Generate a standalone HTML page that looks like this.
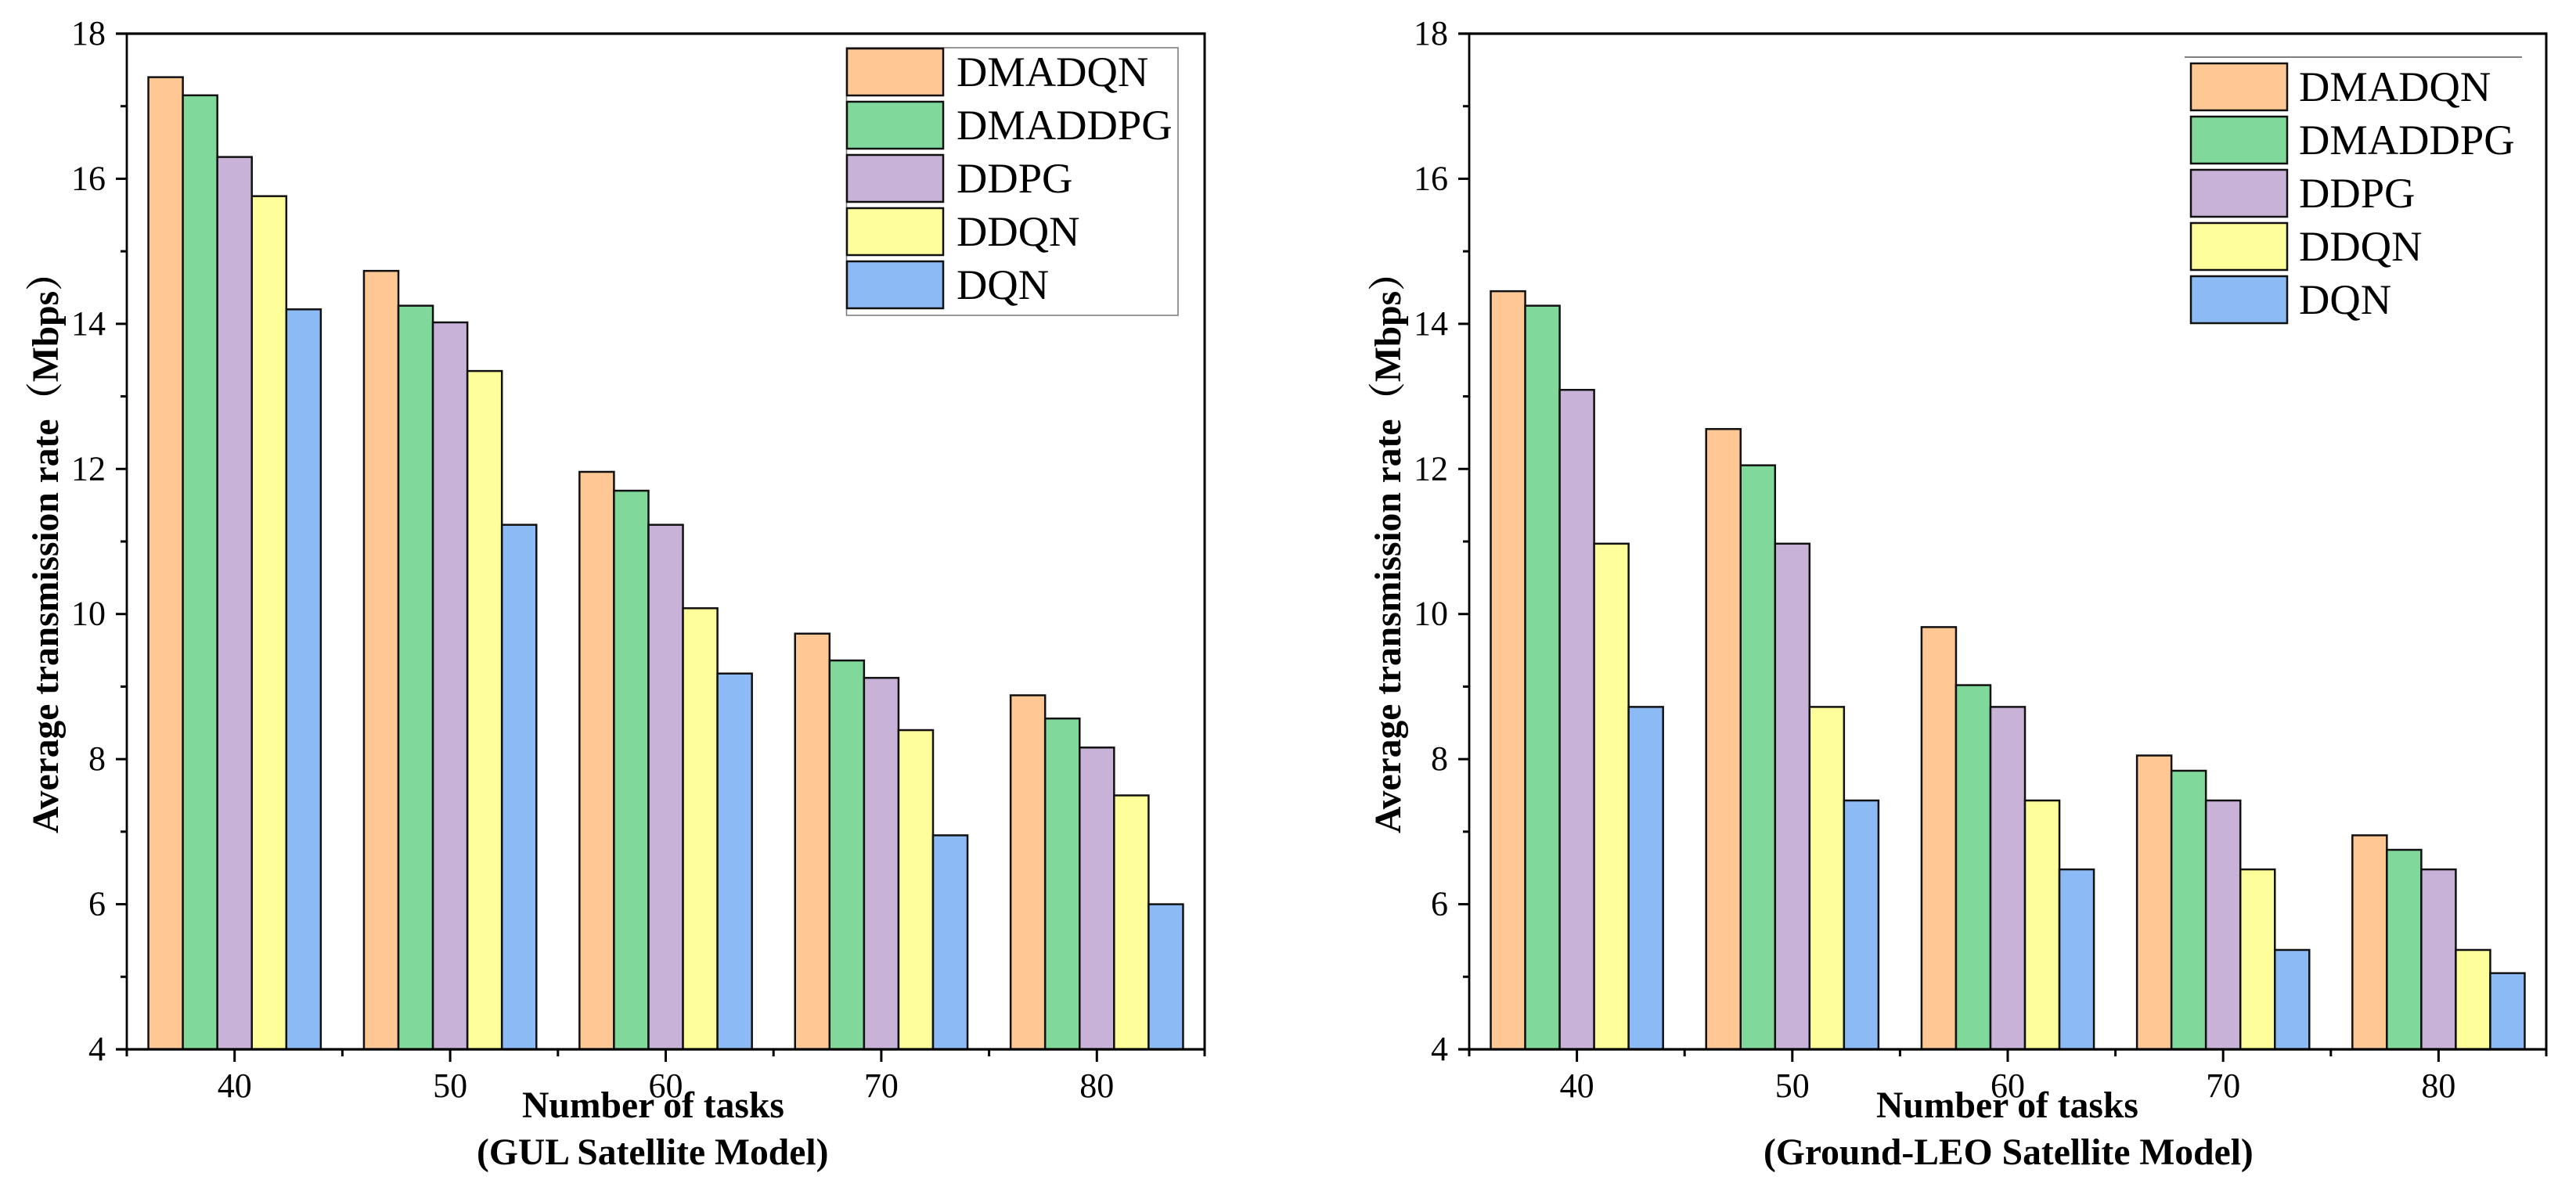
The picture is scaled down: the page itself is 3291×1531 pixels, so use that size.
<!DOCTYPE html>
<html lang="en">
<head>
<meta charset="utf-8">
<title>Average transmission rate charts</title>
<style>
html,body{margin:0;padding:0;background:#fff;width:3291px;height:1531px;overflow:hidden}
svg{display:block}
text{font-family:"Liberation Serif","Noto Serif CJK SC",serif;fill:#000}
</style>
</head>
<body>
<svg id="figure" xmlns="http://www.w3.org/2000/svg" width="3291" height="1531" viewBox="0 0 3291 1531"></svg>
<script>
const categories = ["40", "50", "60", "70", "80"];
const seriesNames = ["DMADQN", "DMADDPG", "DDPG", "DDQN", "DQN"];
const seriesColors = ["#FEC794", "#80D99B", "#C8B2D8", "#FEFE9B", "#8CBAF5"];
const yTickValues = [4, 6, 8, 10, 12, 14, 16, 18];
const yMinorTickValues = [5, 7, 9, 11, 13, 15, 17];

const gulDmadqn = [17.4, 14.73, 11.96, 9.73, 8.88];
const gulDmaddpg = [17.15, 14.25, 11.7, 9.36, 8.56];
const gulDdpg = [16.3, 14.02, 11.23, 9.12, 8.16];
const gulDdqn = [15.76, 13.35, 10.08, 8.4, 7.5];
const gulDqn = [14.2, 11.23, 9.18, 6.95, 6.0];

const leoDmadqn = [14.45, 12.55, 9.82, 8.05, 6.95];
const leoDmaddpg = [14.25, 12.05, 9.02, 7.84, 6.75];
const leoDdpg = [13.09, 10.97, 8.72, 7.43, 6.48];
const leoDdqn = [10.97, 8.72, 7.43, 6.48, 5.37];
const leoDqn = [8.72, 7.43, 6.48, 5.37, 5.05];

const NS = "http://www.w3.org/2000/svg";
const figure = document.getElementById("figure");
const plotTop = 43, plotBottom = 1341, yMin = 4, yMax = 18;

function make(parent, tag, props, content) {
  const el = document.createElementNS(NS, tag);
  for (const key in props) el.setAttribute(key, props[key]);
  if (content !== undefined) el.textContent = content;
  parent.appendChild(el);
  return el;
}
function yScale(v) {
  return plotBottom - (v - yMin) / (yMax - yMin) * (plotBottom - plotTop);
}
function line(parent, x1, y1, x2, y2, w, name) {
  const el = make(parent, "line", {x1: x1, y1: y1, x2: x2, y2: y2, stroke: "#000", "stroke-width": w});
  
  
  return el;
}

function drawPanel(panelName, left, right, series, titleX, titleLine2, title2X, yTitleX) {
  const g = make(figure, "g", {});
  
  
  const step = (right - left) / categories.length;
  const xCenter = function (i) { return left + step * (i + 0.5); };
  const barWidth = step * 0.8 / seriesNames.length;

  series.forEach(function (vals, s) {
    vals.forEach(function (v, c) {
      const x = xCenter(c) - step * 0.4 + s * barWidth;
      const y = yScale(v);
      const bar = make(g, "rect", {x: x, y: y, width: barWidth, height: plotBottom - y, fill: seriesColors[s], stroke: "#111", "stroke-width": 2.5});
      
      
    });
  });

  line(g, left - 14, plotTop, right + 1.5, plotTop, 3.2, "top-axis-line");
  line(g, left, plotTop, left, plotBottom, 2.8, "y-axis-line");
  line(g, right, plotTop, right, plotBottom, 3, "right-axis-line");
  line(g, left - 14, plotBottom, right + 1.5, plotBottom, 3.2, "x-axis-line");

  yTickValues.forEach(function (v) {
    line(g, left - 14, yScale(v), left, yScale(v), 3, "y-tick-" + v);
    const label = make(g, "text", {x: left - 27, y: yScale(v) + 14, "text-anchor": "end", "font-size": 44}, String(v));
    
    
  });
  yMinorTickValues.forEach(function (v) {
    line(g, left - 8, yScale(v), left, yScale(v), 3, "y-minor-tick-" + v);
  });

  categories.forEach(function (cat, i) {
    line(g, xCenter(i), plotBottom, xCenter(i), plotBottom + 16, 3, "x-tick-" + cat);
    const label = make(g, "text", {x: xCenter(i), y: 1402, "text-anchor": "middle", "font-size": 44}, cat);
    
    
  });
  for (let i = 0; i <= categories.length; i++) {
    line(g, left + step * i, plotBottom, left + step * i, plotBottom + 9, 3, "x-minor-tick-" + i);
  }

  const xTitle = make(g, "text", {x: titleX, y: 1428, "font-size": 47.6, "font-weight": "bold"}, "Number of tasks");
  
  
  const xSub = make(g, "text", {x: title2X, y: 1488, "font-size": 47.6, "font-weight": "bold"}, titleLine2);
  
  
  const yTitle = make(g, "text", {x: yTitleX, y: 1065, transform: "rotate(-90 " + yTitleX + " 1065)", "font-size": 47.5, "font-weight": "bold"}, "Average transmission rate（Mbps）");
  
  
}

function drawLegend(name, swatchX, textX, firstTop, boxed) {
  const g = make(figure, "g", {});
  
  
  if (boxed) {
    const frame = make(g, "rect", {x: 1081.5, y: 61, width: 423.5, height: 342, fill: "#fff", stroke: "#777", "stroke-width": 1.5});
    
    
  } else {
    const rule = make(g, "line", {x1: 2791, y1: 73, x2: 3222, y2: 73, stroke: "#555", "stroke-width": 1.5});
    
    
  }
  seriesNames.forEach(function (label, i) {
    const top = firstTop + i * 68;
    const swatch = make(g, "rect", {x: swatchX, y: top, width: 123, height: 60, fill: seriesColors[i], stroke: "#111", "stroke-width": 2.5});
    
    
    const text = make(g, "text", {x: textX, y: top + 48, "font-size": 54.5}, label);
    
    
  });
}

drawPanel("gul-satellite-chart", 162, 1539, [gulDmadqn, gulDmaddpg, gulDdpg, gulDdqn, gulDqn], 667, "(GUL Satellite Model)", 609, 74);
drawPanel("ground-leo-satellite-chart", 1877, 3253, [leoDmadqn, leoDmaddpg, leoDdpg, leoDdqn, leoDqn], 2397, "(Ground-LEO Satellite Model)", 2253, 1789);
drawLegend("gul-legend", 1082, 1222, 62, true);
drawLegend("ground-leo-legend", 2799, 2937, 81, false);
</script>
</body>
</html>
